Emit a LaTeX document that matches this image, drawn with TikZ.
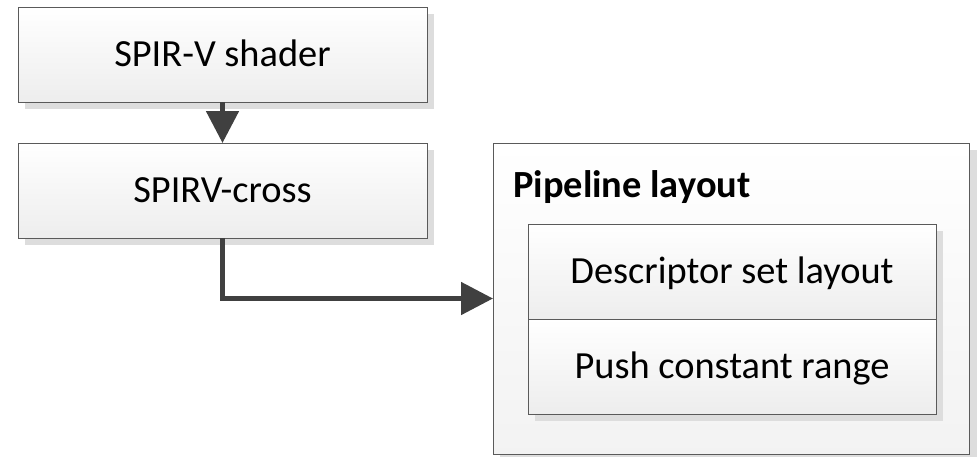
\documentclass[tikz,border=0pt]{standalone}
\usepackage{fontspec}
\setmainfont{Carlito}
\usetikzlibrary{arrows.meta,calc}
\definecolor{edge}{HTML}{5A5A5A}
\definecolor{shadowc}{HTML}{DDDDDD}
\definecolor{arrowc}{HTML}{404040}
\tikzset{
  box/.style={draw=edge, line width=0.9pt, top color=white, bottom color=black!7,
    inner sep=0pt, outer sep=0pt, text height=24.5pt, text depth=0pt,
    font=\fontsize{38.4}{42}\selectfont},
  conn/.style={draw=arrowc, line width=5pt, -{Triangle[width=32pt,length=32pt]}},
}
\begin{document}
\begin{tikzpicture}[x=1pt,y=-1pt]
\useasboundingbox (0,0) rectangle (977,456);
% shadows
\fill[shadowc] (25,14) rectangle (434,109);
\fill[shadowc] (25,150) rectangle (434,245);
\fill[shadowc] (500,150) rectangle (977,461);
% outer container
\node[box, top color=white, bottom color=black!5, minimum width=476pt, minimum height=311pt] (pipe) at (731,298.5) {};
\node[anchor=base west, inner sep=0pt, font=\fontsize{38.4}{42}\selectfont\bfseries] (title) at (513,197) {Pipeline layout};
\fill[shadowc] (535,231) rectangle (943,421);
\node[box, minimum width=408pt, minimum height=95pt] (dsl) at (732,271.5) {Descriptor set layout};
\node[box, minimum width=408pt, minimum height=95pt] (pcr) at (732,366.5) {Push constant range};
% left boxes
\node[box, minimum width=409pt, minimum height=95pt] (shader) at (222.5,54.5) {SPIR-V shader};
\node[box, minimum width=409pt, minimum height=95pt] (cross) at (222.5,190.5) {SPIRV-cross};
% connectors
\draw[conn] (shader.south) -- (cross.north);
\draw[conn] (cross.south) |- (pipe.west);
\end{tikzpicture}
\end{document}
